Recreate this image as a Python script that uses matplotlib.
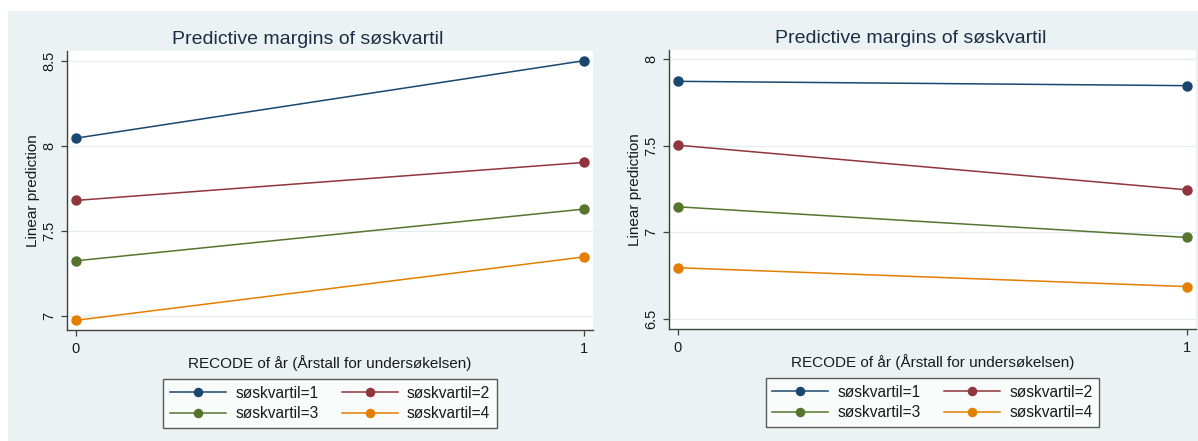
import matplotlib
matplotlib.use("Agg")
import matplotlib.pyplot as plt
from matplotlib.patches import Rectangle

plt.rcParams['font.family'] = ['Liberation Sans', 'DejaVu Sans']

# ---- data ----
x_vals = [0, 1]
x_ticklabels = ["0", "1"]
series_labels = ["søskvartil=1", "søskvartil=2", "søskvartil=3", "søskvartil=4"]
colors = ["#1a476f", "#90353b", "#55752f", "#e37e00"]

left_q1 = [8.047, 8.504]
left_q2 = [7.680, 7.904]
left_q3 = [7.324, 7.629]
left_q4 = [6.973, 7.347]
left_yticks = [7, 7.5, 8, 8.5]
left_yticklabels = ["7", "7.5", "8", "8.5"]

right_q1 = [7.873, 7.848]
right_q2 = [7.504, 7.246]
right_q3 = [7.148, 6.971]
right_q4 = [6.796, 6.687]
right_yticks = [6.5, 7, 7.5, 8]
right_yticklabels = ["6.5", "7", "7.5", "8"]

title = "Predictive margins of søskvartil"
xlabel = "RECODE of år (Årstall for undersøkelsen)"
ylabel = "Linear prediction"

W, H = 1198, 441
fig = plt.figure(figsize=(W / 100, H / 100), dpi=100)
fig.patch.set_facecolor("white")
bg = "#eaf2f3"
fig.patches.append(Rectangle((8 / W, 0), 1 - 8 / W, (H - 11) / H,
                             transform=fig.transFigure, facecolor=bg,
                             edgecolor="none", zorder=-10))

title_color = "#1e2d45"
text_color = "#1a1a1a"
spine_color = "#404040"


def panel(rect, series, yticks, yticklabels, ylim):
    ax = fig.add_axes(rect)
    ax.set_facecolor("white")
    handles = []
    for vals, c, lab in zip(series, colors, series_labels):
        h, = ax.plot(x_vals, vals, color=c, lw=1.1, marker="o", markersize=6.5,
                     label=lab, clip_on=False, zorder=3)
        handles.append(h)
    ax.set_xlim(-0.0175, 1.0175)
    ax.set_ylim(*ylim)
    ax.set_xticks(x_vals)
    ax.set_xticklabels(x_ticklabels)
    ax.set_yticks(yticks)
    ax.set_yticklabels(yticklabels, rotation=90, va="center")
    ax.tick_params(axis="both", direction="out", length=4.5, width=0.9,
                   color=spine_color, labelsize=10.5, labelcolor=text_color)
    ax.tick_params(axis="y", pad=3)
    ax.tick_params(axis="x", pad=4)
    ax.grid(axis="y", color="#e4eef0", lw=1.0, zorder=0)
    ax.set_axisbelow(True)
    for s in ["top", "right"]:
        ax.spines[s].set_visible(False)
    for s in ["left", "bottom"]:
        ax.spines[s].set_color(spine_color)
        ax.spines[s].set_linewidth(1.0)
    ax.set_ylabel(ylabel, fontsize=11, color=text_color)
    ax.yaxis.set_label_coords(-0.051, 0.5)
    ax.set_xlabel(xlabel, fontsize=11, color=text_color)
    ax.xaxis.set_label_coords(0.5, -0.088)
    ax.text(0.458, (330 - 44) / 279, title, transform=ax.transAxes,
            ha="center", va="baseline", fontsize=14, color=title_color)
    # row-major order: 1, 2 / 3, 4 (matplotlib fills column-wise)
    order = [0, 2, 1, 3]
    leg = ax.legend([handles[i] for i in order],
                    [series_labels[i] for i in order],
                    loc="upper center", bbox_to_anchor=(0.5, -0.1756), ncol=2,
                    fontsize=11.2, frameon=True, fancybox=False,
                    handlelength=3.6, handletextpad=0.6, columnspacing=1.5,
                    labelspacing=0.35, borderpad=0.42, borderaxespad=0,
                    markerscale=0.9)
    leg.get_frame().set_edgecolor("#333333")
    leg.get_frame().set_linewidth(1.0)
    for t in leg.get_texts():
        t.set_color(text_color)
    return ax


panel([67 / W, (H - 330) / H, 526 / W, 279 / H],
      [left_q1, left_q2, left_q3, left_q4],
      left_yticks, left_yticklabels, (6.916, 8.561))
panel([669 / W, (H - 329) / H, 527 / W, 279 / H],
      [right_q1, right_q2, right_q3, right_q4],
      right_yticks, right_yticklabels, (6.442, 8.054))

fig.savefig("out.png", dpi=100, facecolor=fig.get_facecolor())
